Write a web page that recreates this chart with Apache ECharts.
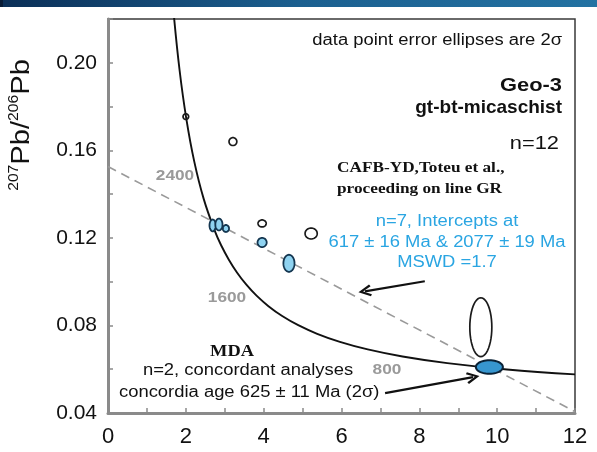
<!DOCTYPE html>
<html><head><meta charset="utf-8">
<script src="https://cdn.jsdelivr.net/npm/echarts@6/dist/echarts.min.js"></script>
<style>html,body{margin:0;padding:0;background:#fff}#c{width:597px;height:452px}</style>
</head><body><div id="c"></div>
<script>
// Concordia curve (read/estimated points), 238U/206Pb vs 207Pb/206Pb
const concordiaX = [12.000, 10.252, 8.718, 7.568, 6.674, 5.959, 5.375, 4.888, 4.476, 4.123, 3.817, 3.550, 3.314, 3.105, 2.917, 2.749, 2.459, 2.217, 2.013, 1.838, 1.687];
const concordiaY = [0.05764, 0.05990, 0.06276, 0.06580, 0.06904, 0.07250, 0.07619, 0.08012, 0.08432, 0.08881, 0.09360, 0.09872, 0.10419, 0.11004, 0.11629, 0.12299, 0.13782, 0.15483, 0.17437, 0.19682, 0.22266];
// Discordia (dashed)
const discordiaX = [0, 12];
const discordiaY = [0.1526, 0.0406];
// Error ellipses: centre, semi-axes (data units), kind
const ellX  = [2.00, 3.21, 2.69, 2.85, 3.03, 3.96, 3.96, 4.65, 5.22, 9.58, 9.80];
const ellY  = [0.1754, 0.1640, 0.1257, 0.1261, 0.1243, 0.1266, 0.1179, 0.1084, 0.1220, 0.0792, 0.0610];
const ellRx = [0.072, 0.100, 0.082, 0.092, 0.080, 0.105, 0.118, 0.143, 0.156, 0.283, 0.347];
const ellRy = [0.0013, 0.0018, 0.0027, 0.0027, 0.0016, 0.0016, 0.0021, 0.0039, 0.0025, 0.01345, 0.0031];
const ellKind = ['open','open','fit','fit','fit','open','fit','fit','open','open','mda'];
// Arrows (data coords)
const arrowFrom = [[8.14, 0.1002], [7.12, 0.0491]];
const arrowTo   = [[6.60, 0.0956], [9.38, 0.0564]];
// Concordia age labels
const ageLabels = ['2400', '1600', '800'];

const SANS = '"Liberation Sans", Arial, sans-serif';
const SERIF = '"Liberation Serif", "Times New Roman", serif';
const SX = 1.15; // horizontal text stretch seen in the reference

const ellData = ellX.map((x, i) => [x, ellY[i], ellRx[i], ellRy[i], i]);
const styles = {
  open: {fill: 'rgba(0,0,0,0)', stroke: '#1b1b1b', lineWidth: 1.7},
  fit:  {fill: '#8fd3f1', stroke: '#143650', lineWidth: 1.8},
  mda:  {fill: '#3796cf', stroke: '#0b2236', lineWidth: 2}
};

const chevron = 'path://M5,0 L10,9 L8.3,10 L5,3.6 L1.7,10 L0,9 Z';

function txt(x, y, text, size, opts) {
  opts = opts || {};
  return {type: 'text', x: x, y: y, silent: true, scaleX: opts.sx || SX,
    style: {text: text, align: opts.align || 'center', verticalAlign: 'middle', fontSize: size,
      fontWeight: opts.bold ? 'bold' : 'normal', fontFamily: opts.font || SANS, fill: opts.color || '#111'}};
}

const chart = echarts.init(document.getElementById('c'), null, {renderer: 'canvas'});
const option = {
  animation: false,
  backgroundColor: '#fff',
  grid: {left: 108, right: 22, top: 19, bottom: 39, show: true, borderColor: '#3a3a3a', borderWidth: 1.5, backgroundColor: 'transparent'},
  xAxis: {
    type: 'value', min: 0, max: 12, interval: 1,
    axisLine: {show: true, onZero: false, lineStyle: {color: '#8a8a8a', width: 3}},
    axisTick: {show: true, inside: true, length: 5, lineStyle: {color: '#8a8a8a', width: 1.5}},
    axisLabel: {fontSize: 22, color: '#111', margin: 13, fontFamily: SANS,
      formatter: v => (Math.round(v) % 2 === 0 ? String(Math.round(v)) : '')},
    splitLine: {show: false}
  },
  yAxis: {
    type: 'value', min: 0.04, max: 0.22, interval: 0.02,
    axisLine: {show: true, onZero: false, lineStyle: {color: '#8a8a8a', width: 3}},
    axisTick: {show: true, inside: true, length: 5, lineStyle: {color: '#8a8a8a', width: 1.5}},
    axisLabel: {fontSize: 21, color: '#111', margin: 11, fontFamily: SANS,
      formatter: v => (Math.round(v * 100) % 4 === 0 ? v.toFixed(2) : '')},
    splitLine: {show: false}
  },
  series: [
    {
      type: 'line', data: concordiaX.map((x, i) => [x, concordiaY[i]]),
      smooth: 0.4, showSymbol: false, symbol: 'none', clip: true,
      lineStyle: {color: '#111', width: 1.9}, silent: true, z: 2
    },
    {
      type: 'line', data: discordiaX.map((x, i) => [x, discordiaY[i]]),
      showSymbol: false, symbol: 'none', clip: true,
      lineStyle: {color: '#9a9a9a', width: 1.6, type: [9, 6]}, silent: true, z: 1,
      markLine: {
        silent: true, animation: false,
        symbol: ['none', chevron], symbolSize: [12, 13],
        lineStyle: {color: '#111', width: 2.2, type: 'solid'},
        label: {show: false},
        emphasis: {disabled: true},
        data: arrowFrom.map((f, i) => [{coord: f}, {coord: arrowTo[i]}])
      }
    },
    {
      type: 'custom', silent: true, z: 5,
      data: ellData,
      renderItem: function (params, api) {
        const c = api.coord([api.value(0), api.value(1)]);
        const s = api.size([api.value(2), api.value(3)]);
        const kind = ellKind[api.value(4)];
        const pts = [];
        for (let k = 0; k < 48; k++) {
          const a = k / 48 * Math.PI * 2;
          pts.push([c[0] + s[0] * Math.cos(a), c[1] + s[1] * Math.sin(a)]);
        }
        return {type: 'polygon', shape: {points: pts}, style: styles[kind]};
      }
    }
  ],
  graphic: [
    {type: 'rect', left: 0, top: 0, shape: {width: 597, height: 7}, silent: true,
      style: {fill: new echarts.graphic.LinearGradient(0, 0, 1, 0, [{offset: 0, color: '#0b2f57'}, {offset: 0.5, color: '#1b5f8f'}, {offset: 1, color: '#2372a2'}])}},
    {type: 'rect', left: 0, top: 0, shape: {width: 3, height: 7}, silent: true, style: {fill: '#081c36'}},
    {type: 'text', x: 21, y: 125, rotation: Math.PI / 2, scaleX: 1.12, silent: true,
      style: {text: '{s|207}{b|Pb/}{s|206}{b|Pb}', align: 'center', verticalAlign: 'middle', fill: '#111',
        rich: {s: {fontSize: 14, fontFamily: SANS, verticalAlign: 'top', lineHeight: 28, fill: '#111'},
               b: {fontSize: 26, fontFamily: SANS, verticalAlign: 'bottom', lineHeight: 28, fill: '#111'}}}},
    txt(562, 41, 'data point error ellipses are 2σ', 16, {align: 'right'}),
    txt(562, 86, 'Geo-3', 19, {align: 'right', bold: true}),
    txt(562, 108, 'gt-bt-micaschist', 19, {align: 'right', bold: true, sx: 1.0}),
    txt(559, 144, 'n=12', 19, {align: 'right'}),
    txt(337, 168, 'CAFB-YD,Toteu et al.,', 15, {align: 'left', bold: true, font: SERIF}),
    txt(337, 189, 'proceeding on line GR', 15, {align: 'left', bold: true, font: SERIF}),
    txt(447, 222, 'n=7, Intercepts at', 16, {color: '#2aa5e2'}),
    txt(447, 243, '617 ± 16 Ma & 2077 ± 19 Ma', 16, {color: '#2aa5e2'}),
    txt(447, 263, 'MSWD =1.7', 16, {color: '#2aa5e2'}),
    txt(232, 352, 'MDA', 16, {bold: true, font: SERIF}),
    txt(248, 371, 'n=2, concordant analyses', 16),
    txt(119, 393, 'concordia age 625 ± 11 Ma (2σ)', 16, {align: 'left'}),
    txt(175, 176, ageLabels[0], 15, {bold: true, color: '#9a9a9a'}),
    txt(227, 298, ageLabels[1], 15, {bold: true, color: '#9a9a9a'}),
    txt(387, 370, ageLabels[2], 15, {bold: true, color: '#9a9a9a'})
  ]
};
chart.setOption(option);
</script>
</body></html>
